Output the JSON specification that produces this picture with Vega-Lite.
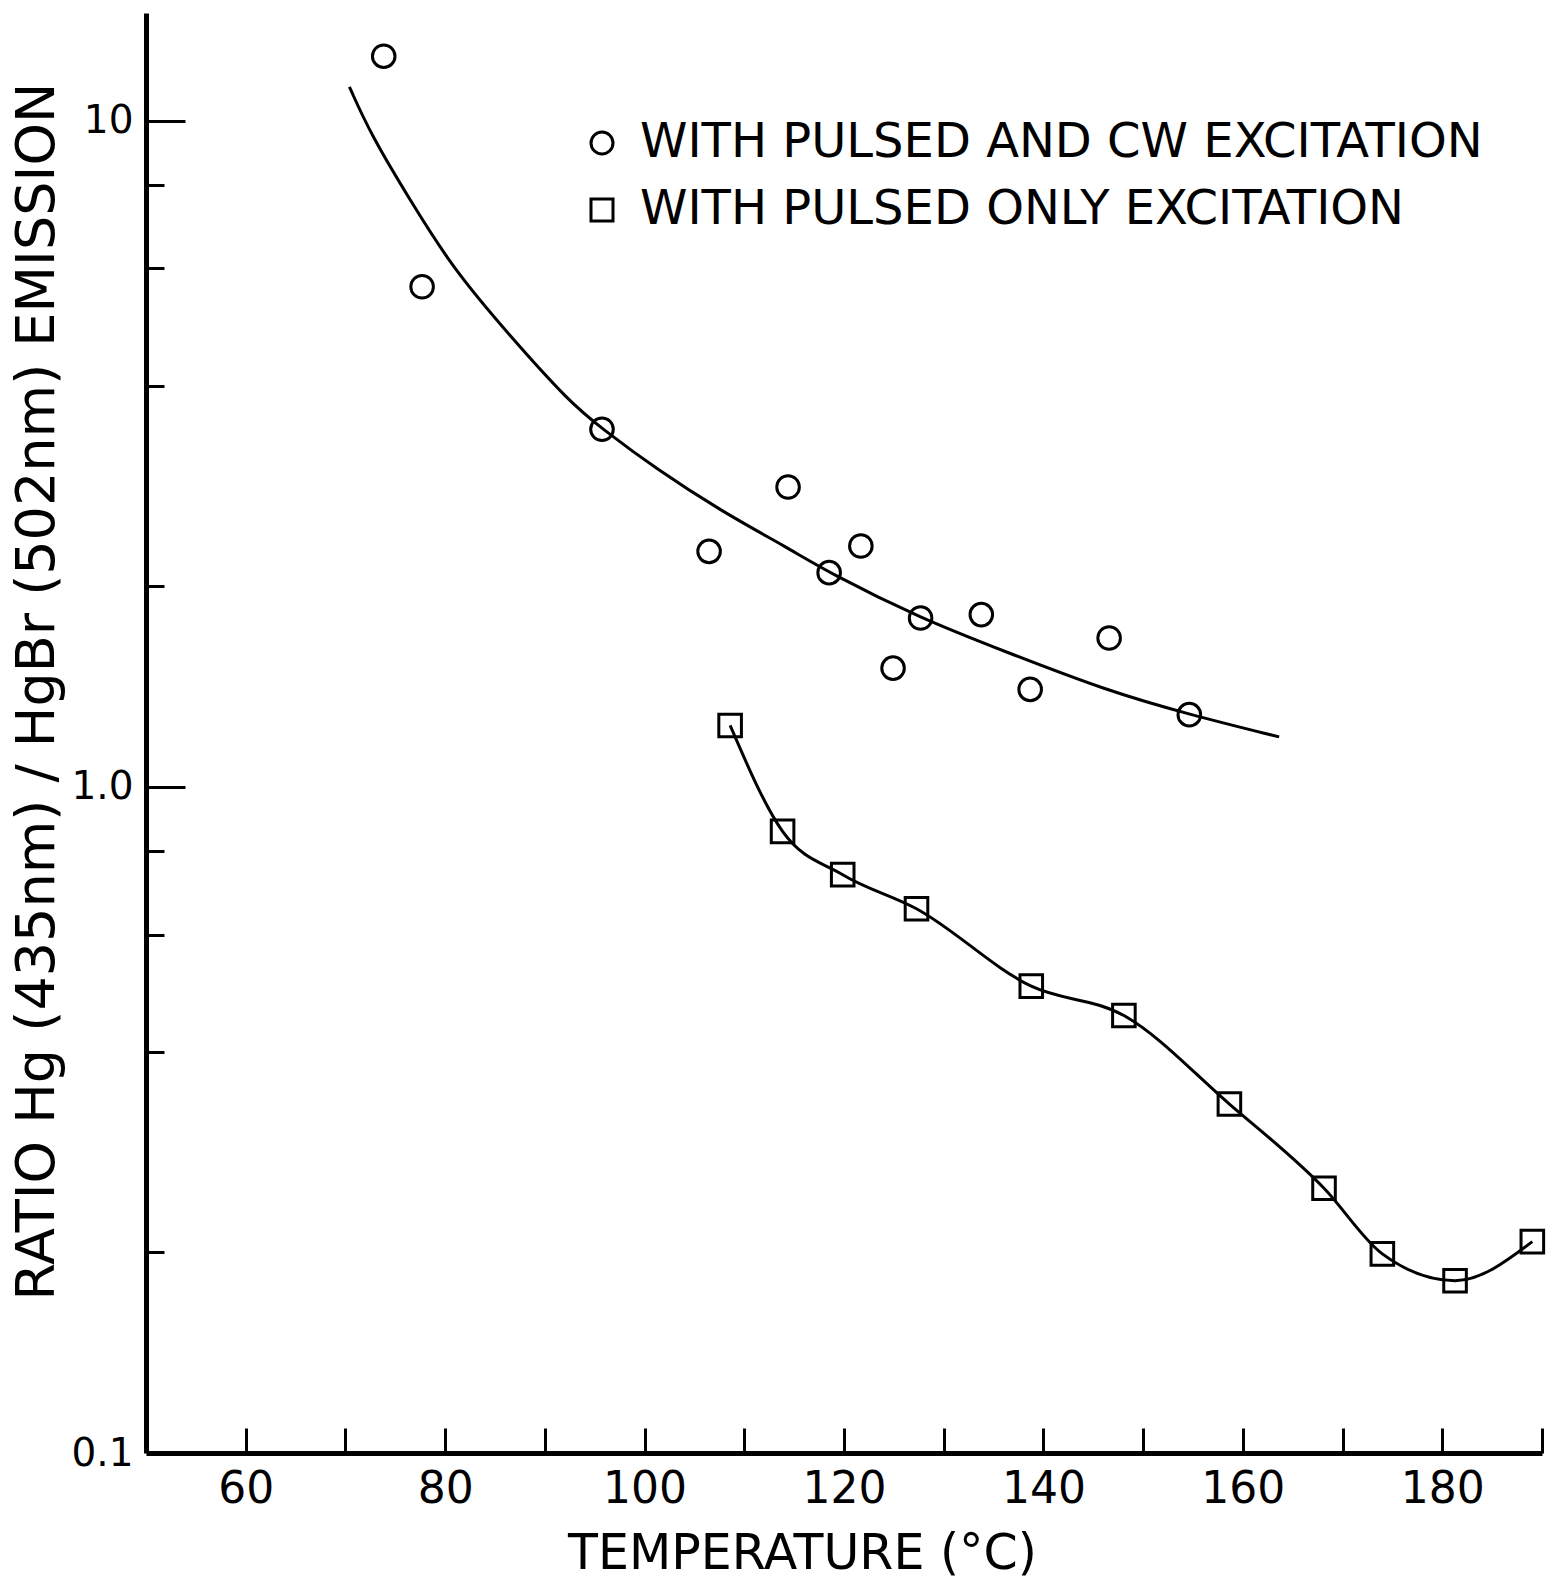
{
  "$schema": "https://vega.github.io/schema/vega-lite/v6.json",
  "autosize": {"type": "none"},
  "width": 1396,
  "height": 1440,
  "padding": {"left": 146, "top": 13, "right": 10, "bottom": 129},
  "background": "white",
  "config": {
    "view": {"stroke": null},
    "font": "DejaVu Sans",
    "axis": {"grid": false, "domainColor": "black", "tickColor": "black", "labelColor": "black", "titleColor": "black", "titleFontWeight": "normal", "labelOverlap": false, "labelFlush": false}
  },
  "datasets": {
    "points": [
      {"T": 73.84, "ratio": 12.49, "series": "WITH PULSED AND CW EXCITATION"},
      {"T": 77.69, "ratio": 5.63, "series": "WITH PULSED AND CW EXCITATION"},
      {"T": 95.73, "ratio": 3.44, "series": "WITH PULSED AND CW EXCITATION"},
      {"T": 106.47, "ratio": 2.256, "series": "WITH PULSED AND CW EXCITATION"},
      {"T": 114.39, "ratio": 2.818, "series": "WITH PULSED AND CW EXCITATION"},
      {"T": 118.51, "ratio": 2.096, "series": "WITH PULSED AND CW EXCITATION"},
      {"T": 121.69, "ratio": 2.298, "series": "WITH PULSED AND CW EXCITATION"},
      {"T": 124.92, "ratio": 1.507, "series": "WITH PULSED AND CW EXCITATION"},
      {"T": 127.68, "ratio": 1.792, "series": "WITH PULSED AND CW EXCITATION"},
      {"T": 133.77, "ratio": 1.813, "series": "WITH PULSED AND CW EXCITATION"},
      {"T": 138.67, "ratio": 1.4, "series": "WITH PULSED AND CW EXCITATION"},
      {"T": 146.59, "ratio": 1.672, "series": "WITH PULSED AND CW EXCITATION"},
      {"T": 154.63, "ratio": 1.283, "series": "WITH PULSED AND CW EXCITATION"},
      {"T": 108.58, "ratio": 1.236, "series": "WITH PULSED ONLY EXCITATION"},
      {"T": 113.84, "ratio": 0.857, "series": "WITH PULSED ONLY EXCITATION"},
      {"T": 119.87, "ratio": 0.738, "series": "WITH PULSED ONLY EXCITATION"},
      {"T": 127.27, "ratio": 0.656, "series": "WITH PULSED ONLY EXCITATION"},
      {"T": 138.78, "ratio": 0.502, "series": "WITH PULSED ONLY EXCITATION"},
      {"T": 148.07, "ratio": 0.4535, "series": "WITH PULSED ONLY EXCITATION"},
      {"T": 158.65, "ratio": 0.334, "series": "WITH PULSED ONLY EXCITATION"},
      {"T": 168.14, "ratio": 0.2497, "series": "WITH PULSED ONLY EXCITATION"},
      {"T": 173.99, "ratio": 0.199, "series": "WITH PULSED ONLY EXCITATION"},
      {"T": 181.28, "ratio": 0.1814, "series": "WITH PULSED ONLY EXCITATION"},
      {"T": 189.03, "ratio": 0.2076, "series": "WITH PULSED ONLY EXCITATION"}
    ],
    "fit": [
      {"T": 70.4, "ratio": 11.23},
      {"T": 72.58, "ratio": 9.505},
      {"T": 76.59, "ratio": 7.55},
      {"T": 80.76, "ratio": 6.0},
      {"T": 86.44, "ratio": 4.76},
      {"T": 92.46, "ratio": 3.78},
      {"T": 95.73, "ratio": 3.448},
      {"T": 101.15, "ratio": 3.0},
      {"T": 107.82, "ratio": 2.585},
      {"T": 114.51, "ratio": 2.277},
      {"T": 118.35, "ratio": 2.101},
      {"T": 127.71, "ratio": 1.788},
      {"T": 136.24, "ratio": 1.594},
      {"T": 146.26, "ratio": 1.395},
      {"T": 154.68, "ratio": 1.283},
      {"T": 163.64, "ratio": 1.188}
    ],
    "pulsedline": [
      {"T": 108.58, "ratio": 1.236},
      {"T": 113.84, "ratio": 0.857},
      {"T": 119.87, "ratio": 0.738},
      {"T": 127.27, "ratio": 0.656},
      {"T": 138.78, "ratio": 0.502},
      {"T": 148.07, "ratio": 0.4535},
      {"T": 158.65, "ratio": 0.334},
      {"T": 168.14, "ratio": 0.2497},
      {"T": 173.99, "ratio": 0.199},
      {"T": 181.28, "ratio": 0.1814},
      {"T": 189.03, "ratio": 0.2076}
    ]
  },
  "layer": [
    {
      "data": {"name": "fit"},
      "mark": {"type": "line", "color": "black", "strokeWidth": 3, "interpolate": "basis"},
      "encoding": {
        "x": {
          "field": "T", "type": "quantitative",
          "scale": {"domain": [50, 190], "nice": false, "zero": false},
          "axis": {
            "orient": "bottom", "values": [60, 80, 100, 120, 140, 160, 180],
            "ticks": false, "domain": true, "domainWidth": 5,
            "labelFontSize": 44, "labelBaseline": "alphabetic", "labelPadding": 49,
            "title": "TEMPERATURE (°C)", "titleFontSize": 49,
            "titleX": 656, "titleY": 115, "titleAlign": "center", "titleBaseline": "alphabetic"
          }
        },
        "y": {
          "field": "ratio", "type": "quantitative",
          "scale": {"type": "log", "domain": [0.1, 14.5], "nice": false, "zero": false},
          "axis": {
            "orient": "left", "values": [0.1, 1, 10],
            "labelExpr": "datum.value == 1 ? '1.0' : datum.value == 10 ? '10' : '0.1'",
            "ticks": false, "domain": true, "domainWidth": 5,
            "labelFontSize": 39, "labelPadding": 13,
            "title": "RATIO Hg (435nm) / HgBr (502nm) EMISSION", "titleFontSize": 54,
            "titleX": -93, "titleY": 678, "titleAlign": "center", "titleBaseline": "alphabetic", "titleAngle": 270
          }
        }
      }
    },
    {
      "data": {"name": "pulsedline"},
      "mark": {"type": "line", "color": "black", "strokeWidth": 3, "interpolate": "monotone"},
      "encoding": {
        "x": {"field": "T", "type": "quantitative", "axis": null},
        "y": {"field": "ratio", "type": "quantitative", "axis": null}
      }
    },
    {
      "data": {"name": "points"},
      "mark": {"type": "point", "filled": false, "color": "black", "strokeWidth": 3, "size": 510, "opacity": 1},
      "encoding": {
        "x": {
          "field": "T", "type": "quantitative",
          "axis": {
            "orient": "top", "offset": -1440, "values": [60, 70, 80, 90, 100, 110, 120, 130, 140, 150, 160, 170, 180, 190],
            "labels": false, "domain": false, "ticks": true, "tickSize": 25, "tickWidth": 3, "title": null
          }
        },
        "y": {
          "field": "ratio", "type": "quantitative",
          "axis": {
            "orient": "right", "offset": -1396, "values": [0.2, 0.4, 0.6, 0.8, 1, 2, 4, 6, 8, 10],
            "labels": false, "domain": false, "ticks": true, "tickWidth": 3,
            "tickSize": {"condition": {"test": "datum.value == 1 || datum.value == 10", "value": 39}, "value": 18},
            "title": null
          }
        },
        "shape": {
          "field": "series", "type": "nominal",
          "scale": {"domain": ["WITH PULSED AND CW EXCITATION", "WITH PULSED ONLY EXCITATION"], "range": ["circle", "square"]},
          "legend": {
            "orient": "none", "legendX": 432, "legendY": 106, "title": null,
            "labelFontSize": 48, "labelColor": "black", "labelLimit": 2000,
            "symbolSize": 484, "symbolStrokeWidth": 3, "symbolStrokeColor": "black", "symbolFillColor": "transparent",
            "labelOffset": 14, "rowPadding": 19, "padding": 0
          }
        }
      }
    }
  ],
  "resolve": {"axis": {"x": "independent", "y": "independent"}}
}
